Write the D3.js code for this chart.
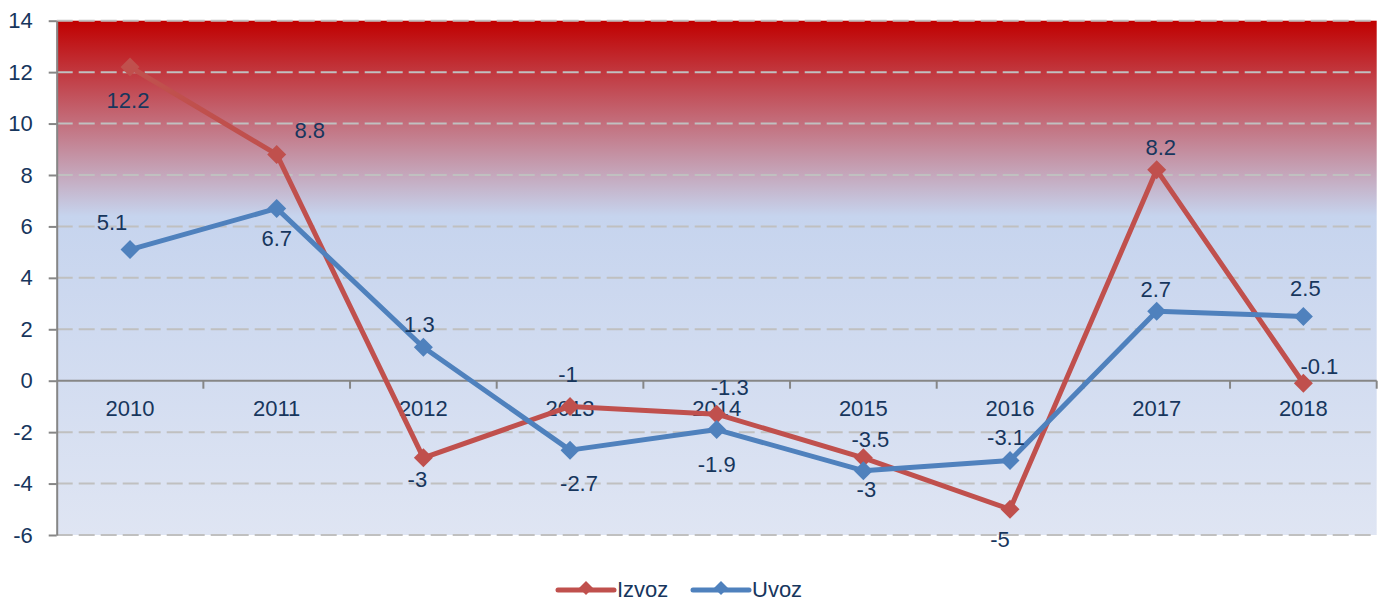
<!DOCTYPE html>
<html>
<head>
<meta charset="utf-8">
<script src="https://cdn.jsdelivr.net/npm/d3@7"></script>
<style>
  html, body { margin: 0; padding: 0; background: #ffffff; }
  svg { display: block; }
  text { font-family: "Liberation Sans", Arial, sans-serif; fill: #17365D; }
</style>
</head>
<body>
<svg id="chart" width="1383" height="601"></svg>
<script>
// ---- data ----
const categories = ["2010", "2011", "2012", "2013", "2014", "2015", "2016", "2017", "2018"];
const izvoz = [12.2, 8.8, -3, -1, -1.3, -3, -5, 8.2, -0.1];
const uvoz = [5.1, 6.7, 1.3, -2.7, -1.9, -3.5, -3.1, 2.7, 2.5];
const yTicks = [14, 12, 10, 8, 6, 4, 2, 0, -2, -4, -6];
const seriesNames = ["Izvoz", "Uvoz"];

// label placement nudges (text centre relative to point), in px
const izvozLabelNudge = [[-2, 33], [33, -24], [-6, 21], [-2, -32], [13, -27], [3, 31], [-10, 30], [4, -23], [16, -17]];
const uvozLabelNudge = [[-18, -27], [0, 30], [-4, -23], [9, 33], [0, 35], [7, -31], [-4, -23], [-1, -22], [2, -28]];

const colors = { Izvoz: "#C0504D", Uvoz: "#4F81BD" };

// ---- layout ----
const svg = d3.select("#chart");
const plotLeft = 56.7, plotRight = 1376.7, plotTop = 20.7, plotBottom = 535;

const x = d3.scaleBand().domain(categories).range([plotLeft, plotRight]).padding(0);
const y = d3.scaleLinear().domain([-6, 14]).range([plotBottom, plotTop]);
const cx = c => x(c) + x.bandwidth() / 2;

// gradient background
const defs = svg.append("defs");
const grad = defs.append("linearGradient").attr("id", "bg")
  .attr("x1", 0).attr("y1", 0).attr("x2", 0).attr("y2", 1);
grad.append("stop").attr("offset", "0").attr("stop-color", "#C00000");
grad.append("stop").attr("offset", "0.38").attr("stop-color", "#C6D4EE");
grad.append("stop").attr("offset", "1").attr("stop-color", "#DFE5F3");

svg.append("rect")
  .attr("x", plotLeft).attr("y", plotTop)
  .attr("width", plotRight - plotLeft).attr("height", plotBottom - plotTop)
  .attr("fill", "url(#bg)");

// gridlines
svg.append("g").selectAll("line")
  .data(yTicks.filter(t => t !== 0))
  .join("line")
  .attr("x1", plotLeft).attr("x2", plotRight)
  .attr("y1", d => y(d)).attr("y2", d => y(d))
  .attr("stroke", "#C0C0C0").attr("stroke-width", 2)
  .attr("stroke-dasharray", "16,6");

// y axis
const yAxis = d3.axisLeft(y).tickValues(yTicks).tickSize(8).tickSizeOuter(0).tickPadding(16)
  .tickFormat(d => String(d));
const gy = svg.append("g").attr("transform", `translate(${plotLeft},0)`).call(yAxis);
gy.select(".domain").attr("stroke", "#868686").attr("stroke-width", 2);
gy.selectAll(".tick line").attr("stroke", "#868686").attr("stroke-width", 2);
gy.selectAll(".tick text").attr("font-size", 22).style("fill", "#17365D")
  .attr("font-family", "Liberation Sans, Arial, sans-serif");

// zero axis line with ticks at band boundaries
const zeroY = y(0);
svg.append("line")
  .attr("x1", plotLeft).attr("x2", plotRight).attr("y1", zeroY).attr("y2", zeroY)
  .attr("stroke", "#868686").attr("stroke-width", 2);
svg.append("g").selectAll("line")
  .data(categories.slice(1).concat(["__end"]))
  .join("line")
  .attr("x1", d => d === "__end" ? plotRight : x(d))
  .attr("x2", d => d === "__end" ? plotRight : x(d))
  .attr("y1", zeroY).attr("y2", zeroY + 8)
  .attr("stroke", "#868686").attr("stroke-width", 2);

// category labels
svg.append("g").selectAll("text")
  .data(categories)
  .join("text")
  .attr("x", d => cx(d))
  .attr("y", zeroY + 28)
  .attr("dy", "0.35em")
  .attr("text-anchor", "middle")
  .attr("font-size", 22)
  .text(d => d);

// series
const diamond = r => `M0,${-r}L${r},0L0,${r}L${-r},0Z`;
const lineGen = d3.line().x(d => cx(d.cat)).y(d => y(d.v));

const series = [
  { name: "Izvoz", values: izvoz, nudge: izvozLabelNudge },
  { name: "Uvoz", values: uvoz, nudge: uvozLabelNudge }
];

series.forEach(s => {
  const pts = s.values.map((v, i) => ({ cat: categories[i], v }));
  svg.append("path").datum(pts)
    .attr("d", lineGen)
    .attr("fill", "none")
    .attr("stroke", colors[s.name])
    .attr("stroke-width", 5)
    .attr("stroke-linejoin", "round");
  svg.append("g").selectAll("path")
    .data(pts).join("path")
    .attr("transform", d => `translate(${cx(d.cat)},${y(d.v)})`)
    .attr("d", diamond(9.5))
    .attr("fill", colors[s.name]);
});

// data labels
series.forEach(s => {
  svg.append("g").selectAll("text")
    .data(s.values.map((v, i) => ({ cat: categories[i], v, n: s.nudge[i] })))
    .join("text")
    .attr("x", d => cx(d.cat) + d.n[0])
    .attr("y", d => y(d.v) + d.n[1])
    .attr("dy", "0.35em")
    .attr("text-anchor", "middle")
    .attr("font-size", 22)
    .text(d => String(d.v));
});

// legend
const legendItems = [
  { name: "Izvoz", x0: 558 },
  { name: "Uvoz", x0: 693 }
];
const ly = 589;
const lg = svg.append("g");
legendItems.forEach(it => {
  lg.append("line")
    .attr("x1", it.x0).attr("x2", it.x0 + 56)
    .attr("y1", ly + 1).attr("y2", ly + 1)
    .attr("stroke", colors[it.name]).attr("stroke-width", 5)
    .attr("stroke-linecap", "round");
  lg.append("path")
    .attr("transform", `translate(${it.x0 + 28},${ly - 1})`)
    .attr("d", diamond(7))
    .attr("fill", colors[it.name]);
  lg.append("text")
    .attr("x", it.x0 + 59).attr("y", ly)
    .attr("dy", "0.35em")
    .attr("font-size", 22)
    .text(it.name);
});
</script>
</body>
</html>
